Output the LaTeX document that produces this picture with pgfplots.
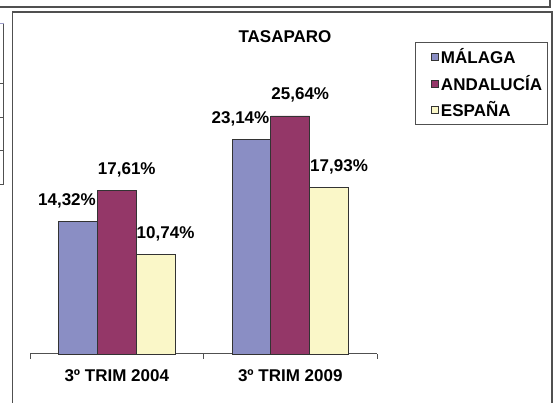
\documentclass[border=0pt]{standalone}
\usepackage{fontspec}
\setmainfont{Liberation Sans}
\usepackage{pgfplots}
\pgfplotsset{compat=1.18}
\definecolor{malaga}{HTML}{8A8EC4}
\definecolor{andalucia}{HTML}{943768}
\definecolor{espana}{HTML}{FAF7C8}
\definecolor{frame}{HTML}{505050}
\newcommand{\bigbf}{\bfseries\fontsize{17}{19}\selectfont}
\begin{document}
\begin{tikzpicture}[x=1pt,y=1pt]
\useasboundingbox (0,0) rectangle (554,403);
% screenshot surroundings
\draw[line width=1.2pt, frame] (0,396) -- (550,396) -- (550,404);
\draw[line width=0.9pt, frame] (3.5,380) -- (3.5,219);
\foreach \yy in {320,286,253,219} \draw[line width=0.9pt, frame] (-1,\yy) -- (3.5,\yy);
\draw[line width=0.9pt, blue!30!gray!60] (-1,380) -- (3.5,380);
\draw[line width=1.3pt, frame] (12.5,-5) -- (12.5,391) -- (552,391) -- (552,-5);
\node[font=\bigbf] at (285,366) {TASAPARO};
\begin{axis}[
  at={(30pt,49pt)}, anchor=south west,
  scale only axis, width=347pt, height=278.5pt,
  xmin=-0.5, xmax=1.5, ymin=0, ymax=30,
  enlargelimits=false,
  axis y line=none, axis x line*=bottom,
  x axis line style={line width=1pt, frame},
  ybar=0pt, bar width=0.2236,
  xtick={0,1}, xticklabels={3º TRIM 2004,3º TRIM 2009},
  major tick length=0pt,
  minor xtick={-0.5,0.5,1.5}, minor tick length=5pt, tick align=outside,
  minor tick style={line width=1pt, frame},
  xticklabel style={font=\bigbf, yshift=-12pt},
  point meta=explicit symbolic,
  nodes near coords,
  every node near coord/.append style={font=\bigbf, inner sep=0pt, anchor=south, yshift=13pt},
  legend style={at={(1.1095,1.1203)}, anchor=north west, draw=frame, line width=1pt,
    font=\bigbf, cells={anchor=west}, row sep=6pt, inner xsep=3pt, inner ysep=4pt},
  legend image code/.code={\draw[#1, line width=0.6pt] (13pt,-3.5pt) rectangle (20pt,3.5pt); \path[draw=none, fill=none] (0pt,0pt) (20.5pt,0pt);},
  clip=false,
]
\addplot[fill=malaga, draw=black!80, line width=0.8pt,
  every node near coord/.append style={xshift=-11pt}]
  coordinates {(0,14.32) [14,32\%] (1,23.14) [23,14\%]};
\addplot[fill=andalucia, draw=black!80, line width=0.8pt,
  every node near coord/.append style={xshift=10pt}]
  coordinates {(0,17.61) [17,61\%] (1,25.64) [25,64\%]};
\addplot[fill=espana, draw=black!80, line width=0.8pt,
  every node near coord/.append style={xshift=10pt}]
  coordinates {(0,10.74) [10,74\%] (1,17.93) [17,93\%]};
\legend{MÁLAGA,ANDALUCÍA,ESPAÑA}
\end{axis}
\end{tikzpicture}
\end{document}
